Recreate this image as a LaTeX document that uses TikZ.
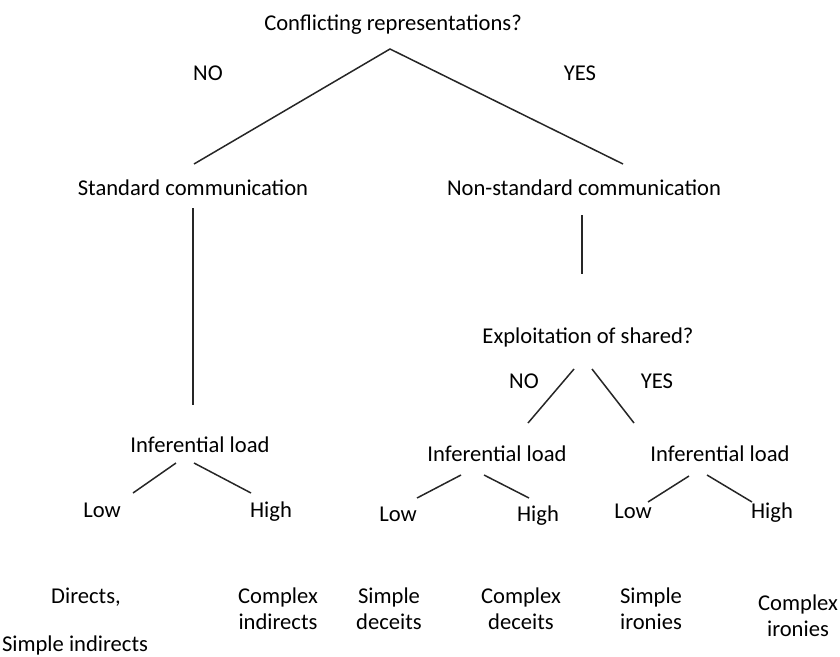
\documentclass[tikz,border=0pt]{standalone}
\usepackage{fontspec}
\setmainfont{Carlito}
\begin{document}
\begin{tikzpicture}[x=1pt,y=-1pt,
  lbl/.style={inner sep=0pt, outer sep=0pt, anchor=base, align=center, font=\fontsize{22.6}{26}\selectfont},
  conn/.style={line width=1.5pt, line cap=butt, black!85}]
\useasboundingbox (0,0) rectangle (840,656);
% labels
\node[lbl] (title) at (393,30) {Conflicting representations?};
\node[lbl] (no1) at (208,80) {NO};
\node[lbl] (yes1) at (580,80) {YES};
\node[lbl] (std) at (193,195) {Standard communication};
\node[lbl] (nonstd) at (584,195) {Non-standard communication};
\node[lbl] (expl) at (588,343) {Exploitation of shared?};
\node[lbl] (no2) at (524,388) {NO};
\node[lbl] (yes2) at (657,388) {YES};
\node[lbl] (infL) at (200,452) {Inferential load};
\node[lbl] (infM) at (497,461) {Inferential load};
\node[lbl] (infR) at (720,461) {Inferential load};
\node[lbl] (lowL) at (102,517) {Low};
\node[lbl] (highL) at (271,517) {High};
\node[lbl] (lowM) at (398,521) {Low};
\node[lbl] (highM) at (538,521) {High};
\node[lbl] (lowR) at (633,518) {Low};
\node[lbl] (highR) at (772,518) {High};
\node[lbl] (directs) at (86,603) {Directs,};
\node[lbl] (simpind) at (75,651) {Simple indirects};
\node[lbl] (cind) at (278,629) {Complex\\indirects};
\node[lbl] (sdec) at (389,629) {Simple\\deceits};
\node[lbl] (cdec) at (521,629) {Complex\\deceits};
\node[lbl] (siro) at (651,629) {Simple\\ironies};
\node[lbl] (ciro) at (798,636) {Complex\\ironies};
% connector end points
\coordinate (apex) at (390,49);
\coordinate (aL) at (194,164);
\coordinate (aR) at (623,164);
\coordinate (vL1) at (193,208);
\coordinate (vL2) at (193,405);
\coordinate (vR1) at (582,215);
\coordinate (vR2) at (582,274);
\coordinate (eL1) at (574,369);
\coordinate (eL2) at (528,423);
\coordinate (eR1) at (592,369);
\coordinate (eR2) at (634,423);
\coordinate (sLa) at (176,463);
\coordinate (sLb) at (133,493);
\coordinate (sLc) at (194,463);
\coordinate (sLd) at (251,493);
\coordinate (sMa) at (461,475);
\coordinate (sMb) at (417,498);
\coordinate (sMc) at (484,475);
\coordinate (sMd) at (529,498);
\coordinate (sRa) at (689,476);
\coordinate (sRb) at (648,502);
\coordinate (sRc) at (707,475);
\coordinate (sRd) at (752,502);
% connectors
\draw[conn] (aL) -- (apex) -- (aR);
\draw[conn] (vL1) -- (vL2);
\draw[conn] (vR1) -- (vR2);
\draw[conn] (eL1) -- (eL2);
\draw[conn] (eR1) -- (eR2);
\draw[conn] (sLa) -- (sLb);
\draw[conn] (sLc) -- (sLd);
\draw[conn] (sMa) -- (sMb);
\draw[conn] (sMc) -- (sMd);
\draw[conn] (sRa) -- (sRb);
\draw[conn] (sRc) -- (sRd);
\end{tikzpicture}
\end{document}
